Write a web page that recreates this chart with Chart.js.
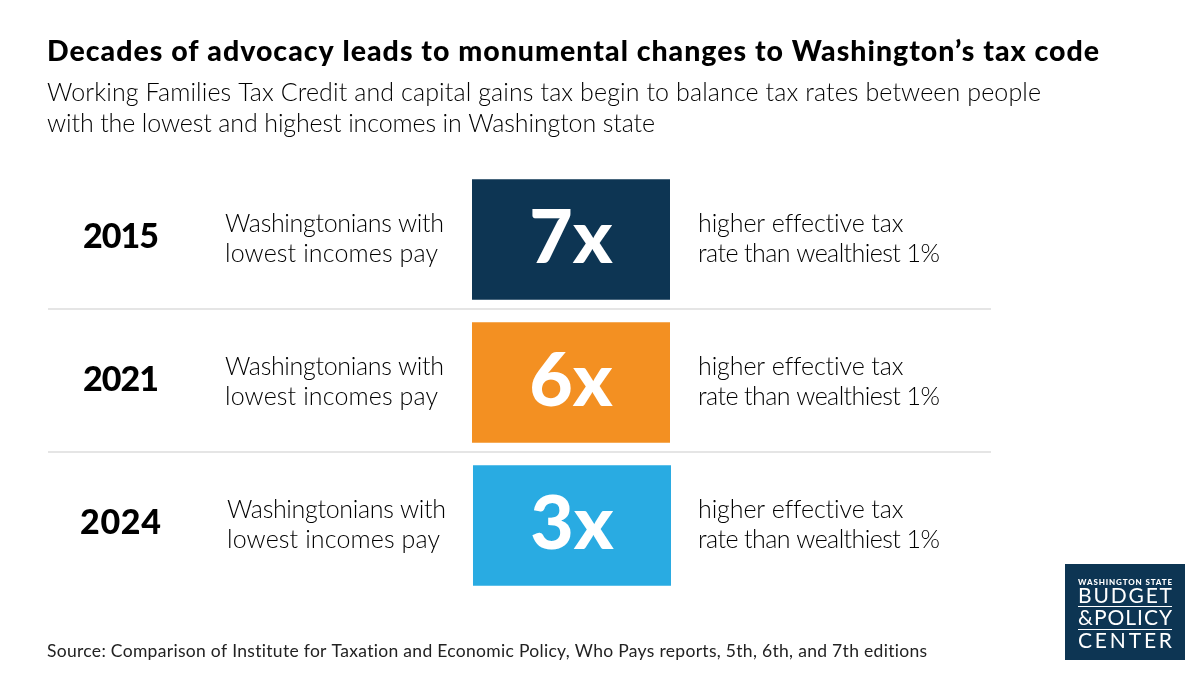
<!DOCTYPE html>
<html><head><meta charset="utf-8">
<style>html,body{margin:0;padding:0;background:#fff}canvas{display:block}</style>
<script src="https://cdn.jsdelivr.net/npm/chart.js@4"></script>
</head><body><canvas id="c" width="1200" height="675"></canvas>
<script>
const years = ['2015','2021','2024'];
const multipliers = [7,6,3];
const boxColors = ['#0d3553','#f39022','#29abe2'];
const leftLines = ['Washingtonians with','lowest incomes pay'];
const rightLines = ['higher effective tax','rate than wealthiest 1%'];
const titleText = 'Decades of advocacy leads to monumental changes to Washington\u2019s tax code';
const subtitleLines = ['Working Families Tax Credit and capital gains tax begin to balance tax rates between people','with the lowest and highest incomes in Washington state'];
const sourceText = 'Source: Comparison of Institute for Taxation and Economic Policy, Who Pays reports, 5th, 6th, and 7th editions';
const logoLines = ['WASHINGTON STATE','BUDGET','&POLICY','CENTER'];

const F = 'Lato, sans-serif';
function put(ctx,text,x,y,font,color,width){
  ctx.save();
  ctx.font = font; ctx.fillStyle = color; ctx.textBaseline='alphabetic'; ctx.textAlign='left';
  ctx.letterSpacing='0px';
  if(width){
    const w = ctx.measureText(text).width;
    ctx.letterSpacing = ((width-w)/(text.length-1)).toFixed(3)+'px';
  }
  ctx.fillText(text,x,y);
  ctx.restore();
}
const rowShift = [0,0,2];
const overlay = {
  id:'overlay',
  afterDatasetsDraw(chart){
    const ctx = chart.ctx, y = chart.scales.y;
    put(ctx,titleText,47,61,'900 28.5px '+F,'#000000',1052);
    put(ctx,subtitleLines[0],47,101,'300 25px '+F,'#000000',994);
    put(ctx,subtitleLines[1],47,132,'300 25px '+F,'#000000',608);
    years.forEach((yr,i)=>{
      const c = y.getPixelForValue(i);
      const s = rowShift[i];
      put(ctx,yr,i==2?80:83,c+8,'900 34px '+F,'#000000',i==2?81:76);
      put(ctx,leftLines[0],225+s,c-8,'300 25px '+F,'#000000',219);
      put(ctx,leftLines[1],225+s,c+22,'300 25px '+F,'#000000',213);
      put(ctx,rightLines[0],698,c-8,'300 25px '+F,'#000000',205);
      put(ctx,rightLines[1],698,c+22,'300 25px '+F,'#000000',242);
      const label = multipliers[i]+'x';
      ctx.save();
      ctx.font='900 75px '+F;
      const w = ctx.measureText(label).width;
      ctx.restore();
      put(ctx,label,(chart.scales.x.getPixelForValue(0.5)+(i==2?1:0))-w/2,c+23,'900 75px '+F,'#ffffff');
      if(i<2){
        ctx.save();ctx.strokeStyle='#dcdcdc';ctx.lineWidth=1.5;ctx.beginPath();
        ctx.moveTo(48,c+69.5);ctx.lineTo(991,c+69.5);ctx.stroke();ctx.restore();
      }
    });
    put(ctx,sourceText,47,657,'400 17.5px '+F,'#222222',881);
    // logo
    ctx.save();ctx.fillStyle='#0d3553';ctx.fillRect(1065,564,120,96);
    ctx.strokeStyle='#ffffff';ctx.lineWidth=1;
    [606.5,629.5].forEach(l=>{ctx.beginPath();ctx.moveTo(1078,l);ctx.lineTo(1172,l);ctx.stroke();});
    ctx.restore();
    put(ctx,logoLines[0],1078,585,'900 8px '+F,'#ffffff',94);
    put(ctx,logoLines[1],1078,603,'400 21px '+F,'#ffffff',94);
    put(ctx,logoLines[2],1078,625,'400 21px '+F,'#ffffff',94);
    put(ctx,logoLines[3],1078,648,'400 21px '+F,'#ffffff',94);
  }
};
const boxNudge = [0,0,0.005];
new Chart(document.getElementById('c'),{
  type:'bar',
  data:{labels:years,datasets:[{
    data:multipliers.map((m,i)=>[boxNudge[i],1+boxNudge[i]]),
    backgroundColor:boxColors,borderWidth:0,
    barPercentage:1,categoryPercentage:120.5/143,clip:false
  }]},
  options:{
    indexAxis:'y',responsive:false,animation:false,devicePixelRatio:1,
    layout:{padding:{left:472,right:530,top:168,bottom:78}},
    plugins:{legend:{display:false},tooltip:{enabled:false},title:{display:false}},
    scales:{
      x:{display:false,min:0,max:1},
      y:{display:false,type:'category'}
    }
  },
  plugins:[overlay]
});
</script></body></html>
